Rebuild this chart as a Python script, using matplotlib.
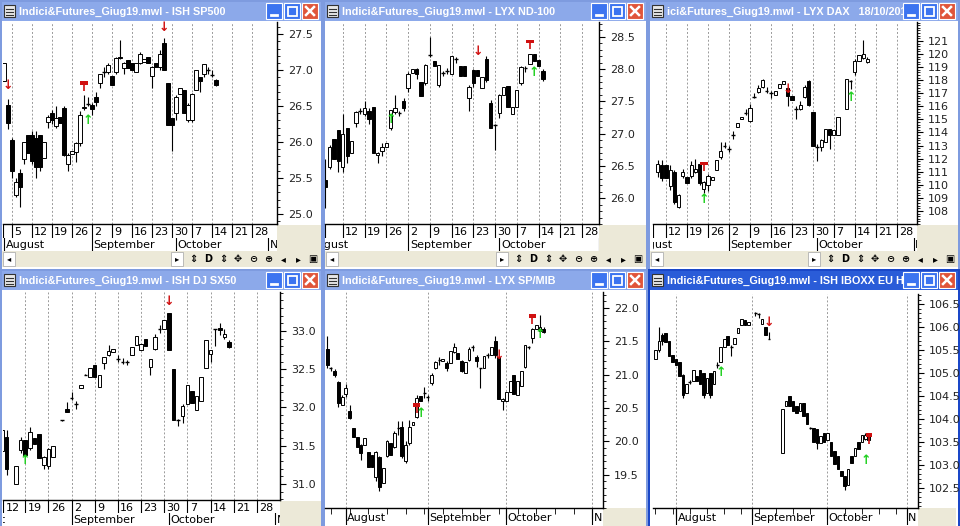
import matplotlib
matplotlib.use("Agg")
import matplotlib.pyplot as plt
from matplotlib.patches import Rectangle

W, H = 960, 526
fig = plt.figure(figsize=(W / 100, H / 100), dpi=100)
fig.patch.set_facecolor("#9DB3DE")

# ---- data: candles (open, close[, high, low]), x starts at start index ----
sp500_start = -2
sp500 = [(26.85, 27.1), (26.52, 26.27, 26.6, 26.18), (26.03, 25.6, 26.06, 25.5), (25.27, 25.44, 25.5, 25.24),
         (25.57, 25.38, 25.62, 25.1), (25.76, 26.0, 26.0, 25.7), (26.1, 25.85), (26.1, 25.73, 26.15, 25.7),
         (26.05, 25.65, 26.15, 25.5), (26.1, 25.65, 26.1, 25.6), (25.78, 26.0), (26.28, 26.35, 26.38, 26.2),
         (26.4, 26.3, 26.45, 26.25), (26.22, 26.33, 26.5, 26.2), (26.35, 26.27), (26.47, 25.82, 26.5, 25.8),
         (25.7, 25.82, 25.85, 25.6), (25.84, 25.88), (25.86, 25.98, 26.0, 25.72), (25.98, 26.38, 26.43, 25.95),
         (26.47, 26.49, 26.65, 26.45), (26.53, 26.53, 26.63, 26.5), (26.52, 26.46, 26.55, 26.38),
         (26.63, 26.56, 26.7, 26.5), (26.82, 26.94, 26.95, 26.75), (26.97, 26.97, 27.05, 26.9),
         (26.98, 27.07, 27.1, 26.95), (26.92, 26.8), (26.98, 27.17, 27.18, 26.95), (27.18, 27.17, 27.42, 27.15),
         (27.03, 27.1, 27.12, 26.95), (27.14, 27.03), (27.1, 27.0), (26.98, 27.1), (27.1, 27.23, 27.25, 27.08),
         (27.12, 27.16), (27.19, 27.1), (26.92, 27.05, 27.06, 26.75), (27.1, 27.05), (27.05, 27.23, 27.28, 27.0),
         (27.38, 27.0, 27.45, 27.0), (26.82, 26.24), (26.33, 26.24, 26.33, 25.88), (26.4, 26.63, 26.65, 26.3),
         (26.67, 26.75), (26.73, 26.4), (26.3, 26.52, 26.55, 26.28), (26.3, 26.67, 26.68, 26.28),
         (26.73, 27.0), (26.9, 26.85, 26.9, 26.7), (26.94, 27.08, 27.08, 26.9), (27.0, 27.0, 27.05, 26.95),
         (26.93, 26.93, 27.0, 26.9), (26.86, 26.8, 26.88, 26.78)]
nd100_start = -4
nd100 = [(26.28, 26.18, 26.6, 25.85), (26.49, 26.8, 26.82, 26.45), (26.92, 26.6), (27.05, 26.57, 27.05, 26.4),
         (26.48, 27.0, 27.3, 26.4), (27.08, 26.65, 27.08, 26.55), (26.7, 26.88), (27.17, 27.33, 27.35, 27.1),
         (27.35, 27.35, 27.4, 27.3), (27.3, 27.4, 27.5, 27.28), (27.35, 27.22, 27.4, 27.15), (27.42, 26.7),
         (26.67, 26.7, 26.72, 26.55), (26.73, 26.8, 26.85, 26.65), (26.8, 26.85), (27.08, 27.36, 27.37, 27.05),
         (27.33, 27.4, 27.6, 27.3), (27.32, 27.32, 27.35, 27.28), (27.5, 27.4, 27.55, 27.35),
         (27.7, 27.93, 27.95, 27.65), (27.94, 28.0), (28.0, 27.92, 28.02, 27.85), (27.8, 27.58),
         (27.78, 28.07, 28.08, 27.75), (28.22, 28.22, 28.5, 28.18), (28.12, 28.05), (27.76, 28.06, 28.07, 27.72),
         (27.94, 27.94, 27.97, 27.9), (27.97, 27.97, 28.02, 27.93), (27.92, 28.2), (28.15, 28.15, 28.18, 28.1),
         (28.05, 27.9), (28.05, 27.9), (27.56, 27.72, 27.75, 27.35), (27.98, 27.78, 28.0, 27.72),
         (27.98, 27.9), (27.7, 27.88), (28.15, 27.83, 28.2, 27.8), (27.47, 27.08, 27.52, 27.08),
         (27.13, 27.13, 27.15, 26.75), (27.32, 27.6, 27.62, 27.25), (27.6, 27.72), (27.74, 27.42),
         (27.3, 27.42), (27.42, 27.68), (27.78, 28.03, 28.05, 27.75), (28.02, 28.02, 28.05, 27.95),
         (28.08, 28.24), (28.24, 28.12), (28.14, 28.05), (27.97, 27.85, 28.0, 27.82)]
dax_start = -2
dax = [(111.0, 111.6, 111.9, 110.6), (111.5, 110.5, 111.9, 110.3), (111.5, 110.5), (109.9, 111.1, 111.5, 109.6),
       (111.0, 108.7, 111.1, 108.5), (108.3, 109.2, 109.3, 108.2), (110.7, 111.0, 111.2, 110.5),
       (110.6, 110.1), (110.7, 111.5, 111.8, 110.5), (111.0, 111.2, 112.0, 110.9), (111.6, 110.1, 111.7, 110.0),
       (109.7, 110.2, 110.3, 109.4), (110.0, 110.7, 110.8, 109.5), (110.4, 110.6), (111.1, 111.9),
       (112.1, 112.6, 113.3, 112.0), (113.0, 113.0, 113.3, 112.8), (112.7, 112.7, 113.0, 112.5),
       (113.8, 113.8, 114.1, 113.5), (114.4, 114.7), (115.0, 115.2), (115.5, 115.5, 115.8, 115.3),
       (114.9, 115.9, 116.2, 114.8), (116.7, 116.7, 117.0, 116.6), (117.1, 117.4, 117.6, 117.0),
       (117.5, 118.0, 118.1, 117.4), (117.2, 117.2, 117.5, 117.0), (117.0, 117.0, 117.2, 116.6),
       (116.9, 117.2), (117.4, 117.7), (117.7, 117.9), (117.4, 116.8, 117.5, 116.0), (116.8, 116.5),
       (115.8, 115.8, 116.0, 115.0), (115.8, 116.1, 116.4, 115.7), (116.7, 117.5, 117.6, 116.6),
       (117.9, 116.1, 118.0, 116.0), (115.6, 113.0), (112.9, 112.9, 113.1, 111.8), (112.9, 113.4, 113.5, 112.6),
       (113.3, 114.3), (114.3, 113.8, 114.3, 112.7), (113.8, 114.2), (113.8, 115.2), None,
       (115.8, 118.1), (117.9, 117.9, 118.0, 117.3), (118.6, 119.5, 119.6, 118.4), (119.5, 119.9),
       (119.7, 120.0, 121.1, 119.6), (119.4, 119.6, 119.8, 119.3)]
sx50_start = 0
sx50 = [(31.43, 31.7), (31.61, 31.19, 31.7, 31.12), None, (31.0, 31.24), (31.45, 31.57, 31.62, 31.4),
        (31.57, 31.38), (31.47, 31.68, 31.75, 31.45), (31.6, 31.52), (31.65, 31.34), (31.25, 31.35, 31.37, 31.2),
        (31.23, 31.46, 31.47, 31.2), (31.35, 31.5), None, (31.83, 31.83, 31.84, 31.82),
        (31.98, 31.94, 32.07, 31.94), (32.12, 32.12, 32.2, 32.1), (32.04, 32.04, 32.08, 31.98), (32.25, 32.3),
        (32.43, 32.43, 32.44, 32.42), (32.4, 32.52), (32.55, 32.4), (32.27, 32.43), (32.58, 32.66, 32.66, 32.5),
        (32.69, 32.74, 32.82, 32.67), (32.72, 32.76), (32.63, 32.63, 32.68, 32.6), (32.6, 32.6, 32.65, 32.57),
        (32.6, 32.6, 32.62, 32.55), (32.69, 32.79), (32.82, 32.94), (32.75, 32.83), (32.89, 32.8),
        (32.53, 32.63, 32.63, 32.42), (32.77, 32.92, 32.96, 32.75), (33.02, 33.02, 33.08, 32.98),
        (33.02, 33.15), (33.24, 32.75), (32.5, 31.84), (31.83, 31.83, 31.85, 31.76), (31.89, 32.02, 32.04, 31.8),
        (32.04, 32.3), (32.21, 32.06), (31.97, 32.15), (32.08, 32.4), (32.51, 32.88), (32.7, 32.75, 32.75, 32.6),
        (33.02, 33.02, 33.03, 32.8), (33.04, 33.01, 33.1, 32.95), (32.92, 32.96, 33.03, 32.9),
        (32.86, 32.79, 32.88, 32.78)]
spmib_start = -5
spmib = [(21.38, 21.15, 21.58, 21.1), (21.1, 21.1, 21.12, 21.05), (21.06, 21.0, 21.08, 20.96),
         (20.89, 20.58, 20.9, 20.52), (20.54, 20.66, 20.7, 20.54), (20.71, 20.8, 20.86, 20.66),
         (20.46, 20.35, 20.55, 20.33), (20.2, 20.07), (20.07, 19.92), (19.95, 19.83, 19.96, 19.72),
         (19.95, 20.05), (19.84, 19.61), (19.8, 19.61), (19.46, 19.84, 19.86, 19.4), (19.76, 19.31, 19.78, 19.25),
         (19.37, 19.6), (19.78, 20.0, 20.02, 19.76), (19.98, 19.8), (19.92, 20.12, 20.15, 19.9),
         (20.2, 20.2, 20.3, 20.1), (20.21, 19.78, 20.3, 19.75), (19.7, 19.95, 20.0, 19.68), (19.98, 20.22, 20.32, 19.95),
         (20.25, 20.29), (20.36, 20.65, 20.7, 20.35), (20.68, 20.6), (20.72, 20.72, 20.82, 20.65),
         (20.66, 20.66, 20.7, 20.6), (20.87, 21.0, 21.02, 20.85), (21.1, 21.19, 21.2, 21.08),
         (21.22, 21.22, 21.27, 21.15), (21.2, 21.24), (21.18, 21.1, 21.2, 21.06), (21.18, 21.35),
         (21.34, 21.42, 21.47, 21.32), (21.32, 21.24), (21.2, 21.05, 21.22, 21.04), (21.02, 21.19),
         (21.22, 21.39, 21.41, 21.2), (21.41, 21.41, 21.44, 21.35), (21.27, 21.21, 21.3, 21.12),
         (21.1, 21.1, 21.1, 20.8), (21.1, 21.28), (21.29, 21.29, 21.32, 21.25), (21.29, 21.41),
         (21.51, 21.29, 21.58, 21.25), (21.26, 20.64), (20.61, 20.63, 20.65, 20.47), (20.61, 20.74),
         (20.74, 20.91), (20.99, 20.71), (20.7, 20.91), (20.83, 21.05), (21.11, 21.44, 21.45, 21.1),
         (21.41, 21.41, 21.43, 21.38), (21.55, 21.68, 21.7, 21.48), (21.68, 21.74), (21.66, 21.71, 21.9, 21.65),
         (21.68, 21.64, 21.72, 21.62)]
iboxx_start = -6
iboxx = [(105.3, 105.5), (105.5, 105.7, 106.0, 105.45), (105.83, 105.69, 105.88, 105.6), (105.87, 105.67),
         (105.69, 105.36), (105.4, 105.25), (105.3, 105.18), (105.25, 104.93), (104.96, 104.53, 104.97, 104.45),
         (104.57, 104.75), (104.8, 104.8, 104.85, 104.75), (104.82, 105.07), (104.93, 104.82), (105.07, 104.77),
         (105.0, 104.53, 105.0, 104.45), (104.57, 104.89), (105.01, 104.53, 105.01, 104.45), (104.77, 105.04),
         (105.18, 105.18, 105.23, 105.1), (105.23, 105.57), (105.57, 105.73), (105.81, 105.6),
         (105.57, 105.57, 105.62, 105.38), (105.64, 105.76), (105.88, 105.98), (106.05, 106.17), (106.15, 106.05),
         (106.05, 106.12), None, (106.3, 106.3, 106.33, 106.25), (106.28, 106.28, 106.3, 106.2),
         (106.07, 106.17), (106.01, 105.83), (105.74, 105.74, 105.9, 105.74), None, None, None,
         (103.26, 104.22), (104.28, 104.38), (104.49, 104.28), (104.38, 104.17), (104.28, 104.13),
         (104.17, 104.35), (104.35, 104.06), (104.13, 103.88), (103.8, 103.8, 103.82, 103.78), (103.8, 103.5),
         (103.77, 103.48, 103.77, 103.35), (103.48, 103.62), (103.7, 103.5), (103.55, 103.7), (103.5, 103.19),
         (103.3, 103.01), (103.19, 102.9), (102.86, 102.75), (102.75, 102.53, 102.75, 102.45),
         (102.55, 102.92), (103.2, 103.03), (103.2, 103.37), (103.5, 103.35), (103.5, 103.66),
         (103.57, 103.66, 103.7, 103.55), (103.64, 103.54)]

# signals: (bar index in list, kind, y)
sp500_sig = [(1, "down", 26.78), (40, "down", 27.6), (20, "flag", 26.8), (21, "up", 26.3)]
nd100_sig = [(35, "down", 28.28), (47, "flag", 28.4), (48, "up", 27.95), (15, "up", 27.22)]
dax_sig = [(11, "flag", 111.5), (11, "up", 108.9), (31, "down", 117.3), (46, "up", 116.7)]
sx50_sig = [(5, "up", 31.3), (36, "down", 33.38)]
spmib_sig = [(24, "flag", 20.52), (25, "up", 20.42), (46, "down", 21.28), (55, "flag", 21.85), (57, "up", 21.6)]
iboxx_sig = [(19, "up", 105.0), (33, "down", 106.1), (62, "flag", 103.6), (61, "up", 103.1)]

week_labels = ["5", "12", "19", "26", "2", "9", "16", "23", "30", "7", "14", "21", "28"]
months = ["August", "September", "October", "N"]


def px_axes(x0, y0, x1, y1, **kw):
    return fig.add_axes([x0 / W, 1 - y1 / H, (x1 - x0) / W, (y1 - y0) / H], **kw)


bg = px_axes(0, 0, W, H)
bg.set_xlim(0, W)
bg.set_ylim(H, 0)
bg.axis("off")


def window(x0, y0, x1, y1, title, active=False):
    edge = "#1A47C8" if active else "#7E9BDF"
    bg.add_patch(Rectangle((x0, y0), x1 - x0, y1 - y0, fc=edge, ec="none"))
    bg.add_patch(Rectangle((x0 + 2, y0 + 2), x1 - x0 - 4, 19, fc="#8CA9EA" if not active else "#2A5CD8", ec="none"))
    bg.add_patch(Rectangle((x0 + 4, y0 + 5), 11, 12, fc="#E8E8E8", ec="#333333", lw=0.8))
    for k in range(3):
        bg.plot([x0 + 6, x0 + 13], [y0 + 9 + 3 * k, y0 + 9 + 3 * k], color="#333333", lw=0.8)
    bg.text(x0 + 19, y0 + 11.5, title, color="white", fontsize=7.8, fontweight="bold", va="center", ha="left",
            family="Liberation Sans")
    for k, c in enumerate(["#3C74F0", "#3C74F0", "#E0553A"]):
        bx = x1 - 57 + 18 * k
        bg.add_patch(Rectangle((bx, y0 + 3), 16, 16, fc=c, ec="white", lw=0.8, zorder=4))
    bg.plot([x1 - 52, x1 - 46], [y0 + 15, y0 + 15], color="white", lw=2, zorder=5)
    bg.add_patch(Rectangle((x1 - 35, y0 + 6.5), 9, 9, fc="none", ec="white", lw=1.3, zorder=5))
    bg.plot([x1 - 17, x1 - 9], [y0 + 7, y0 + 15], color="white", lw=1.8, zorder=5)
    bg.plot([x1 - 17, x1 - 9], [y0 + 15, y0 + 7], color="white", lw=1.8, zorder=5)
    bg.add_patch(Rectangle((x0 + 2, y0 + 21), x1 - x0 - 4, y1 - y0 - 21, fc="white", ec="none"))


def draw_candles(ax, rows, start):
    for i, r in enumerate(rows):
        if r is None:
            continue
        x = start + i
        o, c = r[0], r[1]
        hi = r[2] if len(r) > 2 else max(o, c)
        lo = r[3] if len(r) > 2 else min(o, c)
        ax.vlines(x, lo, hi, color="black", lw=0.8, zorder=2)
        if abs(o - c) < 1e-9:
            ax.hlines(o, x - 0.4, x + 0.4, color="black", lw=1.0, zorder=3)
        else:
            ax.add_patch(Rectangle((x - 0.38, min(o, c)), 0.76, abs(c - o),
                                   fc="black" if c < o else "white", ec="black", lw=0.7, zorder=3))


def draw_signals(ax, sigs, start, span):
    for i, kind, y in sigs:
        x = start + i
        if kind == "down":
            ax.text(x, y, "↓", color="#D01010", fontsize=9, fontweight="bold", ha="center", va="center", zorder=5)
        elif kind == "up":
            ax.text(x, y, "↑", color="#20D020", fontsize=9, fontweight="bold", ha="center", va="center", zorder=5)
        else:
            ax.add_patch(Rectangle((x - 0.9, y), 1.8, span * 0.018, fc="#D01010", ec="none", zorder=5))
            ax.vlines(x, y - span * 0.03, y, color="#D01010", lw=1.2, zorder=5)


def chart(rect, rows, start, sigs, xlim, ylim, yticks, fmt, grid_x, minor_x=None):
    ax = px_axes(*rect)
    ax.set_xlim(*xlim)
    ax.set_ylim(*ylim)
    for g in grid_x:
        ax.axvline(g, color="#9A9A9A", lw=0.7, ls=(0, (2, 2)), zorder=1)
    draw_candles(ax, rows, start)
    draw_signals(ax, sigs, start, ylim[1] - ylim[0])
    ax.yaxis.tick_right()
    ax.set_yticks(yticks)
    ax.set_yticklabels([fmt.format(v) for v in yticks], fontsize=8, color="#222222")
    ax.tick_params(axis="y", direction="out", length=4, pad=4)
    ax.minorticks_on()
    ax.tick_params(axis="y", which="minor", length=2)
    ax.tick_params(axis="x", which="both", bottom=False, labelbottom=False)
    if minor_x is not None:
        ax.set_xticks(minor_x, minor=True)
        ax.tick_params(axis="x", which="minor", bottom=True, length=4, direction="out")
        ax.set_xticks(grid_x)
        ax.tick_params(axis="x", which="major", bottom=True, length=8, direction="out", labelbottom=False)
    for s in ["left", "top"]:
        ax.spines[s].set_visible(False)
    ax.spines["right"].set_linewidth(1.0)
    ax.spines["bottom"].set_linewidth(1.0)
    return ax


def date_rows(x0, x1, y0, xlim, week_pos, wlabels, month_pos, two_rows=True, row_h=13):
    if two_rows:
        a = px_axes(x0, y0, x1, y0 + row_h)
        a.set_xlim(*xlim)
        a.set_ylim(0, 1)
        a.axis("off")
        for p, lab in zip(week_pos, wlabels):
            a.axvline(p, color="black", lw=0.8)
            a.text(p + 0.5, 0.45, lab, fontsize=8, va="center", ha="left", clip_on=True)
        y0 += row_h
    b = px_axes(x0, y0, x1, y0 + row_h)
    b.set_xlim(*xlim)
    b.set_ylim(0, 1)
    b.axis("off")
    for p, lab in zip(month_pos, months):
        b.axvline(p, color="black", lw=0.8)
        b.text(p + 0.4, 0.45, lab, fontsize=8, va="center", ha="left", clip_on=True)


def scrollbar(x0, x1, y0):
    bg.add_patch(Rectangle((x0, y0), x1 - x0, 16, fc="#ECE9D8", ec="none"))
    bg.add_patch(Rectangle((x0 + 1, y0 + 1), 12, 14, fc="white", ec="#B0B0B0", lw=0.6))
    bg.text(x0 + 7, y0 + 8, "◂", fontsize=6, ha="center", va="center")
    bx = x1 - 150
    bg.add_patch(Rectangle((bx, y0 + 1), 12, 14, fc="white", ec="#B0B0B0", lw=0.6))
    bg.text(bx + 6, y0 + 8, "▸", fontsize=6, ha="center", va="center")
    icons = ["⇕", "D", "⇕", "✥", "⊝", "⊕", "◂", "▸", "▣"]
    for k, s in enumerate(icons):
        bg.text(bx + 22 + 15 * k, y0 + 8, s, fontsize=7, ha="center", va="center", fontweight="bold")


wk = [5 * k for k in range(13)]

window(0, 0, 323, 269, "Indici&Futures_Giug19.mwl - ISH SP500")
window(323, 0, 648, 269, "Indici&Futures_Giug19.mwl - LYX ND-100")
window(648, 0, 960, 269, "ici&Futures_Giug19.mwl - LYX DAX   18/10/2019")
window(0, 269, 323, 526, "Indici&Futures_Giug19.mwl - ISH DJ SX50")
window(323, 269, 648, 526, "Indici&Futures_Giug19.mwl - LYX SP/MIB")
window(648, 269, 960, 526, "Indici&Futures_Giug19.mwl - ISH IBOXX EU HY", active=True)

x1 = (-2.25, 66.25)
chart((3, 22, 277, 224), sp500, sp500_start, sp500_sig, x1, (24.86, 27.67),
      [25.0, 25.5, 26.0, 26.5, 27.0, 27.5], "{:.1f}", wk)
date_rows(3, 277, 225, x1, [-2.2] + wk, [""] + week_labels, [-2, 20, 41, 64])
bg.add_patch(Rectangle((277, 225), 44, 26, fc="#ECE9D8", ec="none"))
scrollbar(2, 321, 251)

x2 = (-4.1, 58.9)
chart((325, 22, 599, 224), nd100, nd100_start, nd100_sig, x2, (25.6, 28.73),
      [26.0, 26.5, 27.0, 27.5, 28.0, 28.5], "{:.1f}", wk[:12])
date_rows(325, 599, 225, x2, [-4.1] + wk[:12], [""] + week_labels[1:], [-8, 15, 36, 59])
bg.add_patch(Rectangle((599, 225), 47, 26, fc="#ECE9D8", ec="none"))
scrollbar(325, 646, 251)

x3 = (-3.1, 59.8)
chart((653, 22, 917, 224), dax, dax_start, dax_sig, x3, (107.0, 122.45),
      list(range(108, 122)), "{:d}", wk[:12])
date_rows(653, 917, 225, x3, [-3.1] + wk[:12], [""] + week_labels[1:], [-8, 15, 36, 59])
bg.add_patch(Rectangle((917, 225), 41, 26, fc="#ECE9D8", ec="none"))
scrollbar(650, 958, 251)

x4 = (0.2, 60.0)
chart((3, 292, 280, 500), sx50, sx50_start, sx50_sig, x4, (30.79, 33.51),
      [31.0, 31.5, 32.0, 32.5, 33.0], "{:.1f}", wk[:12])
date_rows(3, 280, 501, x4, [0.25] + wk[1:12], week_labels[1:], [-8, 15, 36, 59], row_h=12)
bg.add_patch(Rectangle((280, 501), 41, 25, fc="#ECE9D8", ec="none"))

mon5 = [0, 22, 43, 66]
x5 = (-5.6, 68.9)
chart((325, 292, 603, 508), spmib, spmib_start, spmib_sig, x5, (19.0, 22.24),
      [19.5, 20.0, 20.5, 21.0, 21.5, 22.0], "{:.1f}", mon5, minor_x=[-4, 1, 6, 11, 16, 21, 26, 31, 36, 41, 46, 51, 56, 61])
date_rows(325, 603, 510, x5, [], [], mon5, two_rows=False, row_h=15)
bg.add_patch(Rectangle((603, 508), 43, 18, fc="#ECE9D8", ec="none"))

mon6 = [0, 22, 44, 67]
x6 = (-6.7, 70.3)
chart((653, 294, 918, 508), iboxx, iboxx_start, iboxx_sig, x6, (102.06, 106.72),
      [102.5, 103.0, 103.5, 104.0, 104.5, 105.0, 105.5, 106.0, 106.5], "{:.1f}", mon6,
      minor_x=[-6, -1, 4, 9, 14, 19, 24, 29, 34, 39, 49, 54, 59, 64])
date_rows(653, 918, 510, x6, [], [], mon6, two_rows=False, row_h=15)
bg.add_patch(Rectangle((918, 508), 38, 18, fc="#ECE9D8", ec="none"))

fig.savefig("out.png", dpi=100, facecolor=fig.get_facecolor())
